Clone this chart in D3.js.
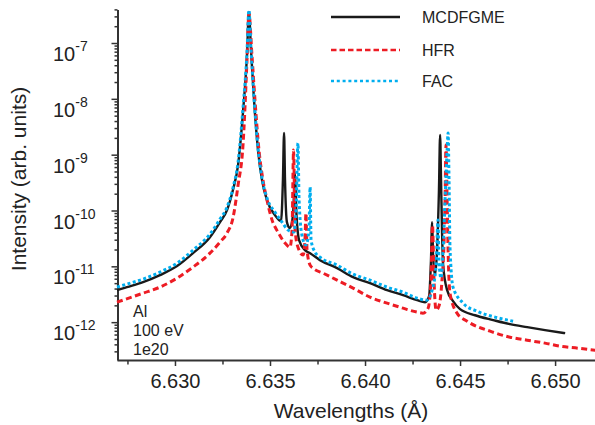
<!doctype html>
<html>
<head>
    <meta charset="utf-8">
    <title>Al spectrum - MCDFGME / HFR / FAC</title>
    <style type="text/css">
        body { margin: 0; background: #fff; }
        svg { font-family: "Liberation Sans", Arial, sans-serif; }
        .line { fill: none; }
        .mcdf { stroke: #1a1a1a; stroke-width: 2.4; }
        .hfr { stroke: #ed1c24; stroke-width: 3; stroke-dasharray: 6, 3.5; }
        .fac { stroke: #00aeef; stroke-width: 3; stroke-dasharray: 3, 2.5; }
        .axis path, .axis line { stroke: #333; }
        .axis path { stroke-width: 2; }
        .axis line { stroke-width: 1.5; }
        .lbl { fill: #222; }
    </style>
</head>
<body>
<div id="plot"></div>

<script src="https://d3js.org/d3.v7.min.js"></script>
<script>

    // data (wavelength in Angstrom, intensity in arb. units)
    var mcdfX = [6.62695, 6.62747, 6.62832, 6.62921, 6.63011, 6.63095, 6.63184, 6.63237, 6.63274, 6.63305,
        6.63332, 6.63358, 6.63379, 6.63389, 6.63400, 6.63416, 6.63437, 6.63458, 6.63484, 6.63526,
        6.63558, 6.63568, 6.63574, 6.63579, 6.63589, 6.63605, 6.63621, 6.63632, 6.63637, 6.63653,
        6.63684, 6.63711, 6.63763, 6.63853, 6.63937, 6.64026, 6.64116, 6.64200, 6.64274, 6.64316,
        6.64337, 6.64347, 6.64353, 6.64358, 6.64368, 6.64379, 6.64389, 6.64395, 6.64400, 6.64405,
        6.64411, 6.64432, 6.64463, 6.64500, 6.64579, 6.64674, 6.64763, 6.64853, 6.64947, 6.65053];
    var mcdfY = [3.74e-12, 4.24e-12, 5.21e-12, 6.95e-12, 1.01e-11, 1.72e-11, 3.33e-11, 6.20e-11, 1.02e-10, 2.32e-10,
        6.52e-10, 5.80e-9, 6.10e-8, 3.60e-7, 7.50e-8, 9.51e-9, 1.21e-9, 3.51e-10, 1.54e-10, 8.28e-11,
        6.46e-11, 3.51e-10, 2.44e-9, 3.51e-10, 6.20e-11, 4.84e-11, 8.28e-11, 4.68e-10, 1.25e-10, 2.95e-11,
        1.95e-11, 1.72e-11, 1.29e-11, 9.29e-12, 6.40e-12, 5.00e-12, 3.74e-12, 3.05e-12, 2.48e-12, 2.28e-12,
        2.92e-12, 1.29e-11, 6.20e-11, 1.59e-11, 6.95e-12, 1.95e-11, 2.32e-10, 2.25e-9, 3.51e-10, 4.46e-11,
        1.05e-11, 3.74e-12, 2.38e-12, 1.71e-12, 1.33e-12, 1.09e-12, 9.20e-13, 8.13e-13, 7.19e-13, 6.35e-13];

    var hfrX = [6.62695, 6.62832, 6.62921, 6.63011, 6.63095, 6.63184, 6.63237, 6.63274, 6.63305, 6.63332,
        6.63358, 6.63379, 6.63389, 6.63405, 6.63421, 6.63442, 6.63463, 6.63484, 6.63511, 6.63542,
        6.63579, 6.63605, 6.63616, 6.63624, 6.63632, 6.63647, 6.63674, 6.63684, 6.63689, 6.63695,
        6.63711, 6.63726, 6.63779, 6.63853, 6.63937, 6.64026, 6.64116, 6.64200, 6.64274, 6.64305,
        6.64332, 6.64347, 6.64355, 6.64363, 6.64374, 6.64389, 6.64405, 6.64416, 6.64421, 6.64426,
        6.64432, 6.64437, 6.64447, 6.64484, 6.64537, 6.64658, 6.64763, 6.64853, 6.64947, 6.65026,
        6.65121, 6.65211];
    var hfrY = [2.28e-12, 3.31e-12, 4.24e-12, 6.15e-12, 9.68e-12, 1.72e-11, 2.72e-11, 3.94e-11, 7.31e-11, 2.85e-10,
        1.49e-9, 4.96e-8, 3.45e-7, 6.10e-8, 9.51e-9, 1.21e-9, 3.51e-10, 1.54e-10, 6.73e-11, 4.10e-11,
        2.61e-11, 2.21e-11, 4.46e-11, 1.21e-9, 4.46e-11, 2.21e-11, 1.59e-11, 2.95e-11, 8.98e-11, 1.95e-11,
        1.05e-11, 9.29e-12, 7.55e-12, 5.66e-12, 4.07e-12, 2.81e-12, 2.19e-12, 1.78e-12, 1.51e-12, 1.45e-12,
        1.78e-12, 5.66e-12, 5.47e-11, 5.66e-12, 1.64e-12, 1.94e-12, 5.66e-12, 2.95e-11, 1.54e-10, 1.49e-9,
        1.54e-10, 1.95e-11, 3.31e-12, 1.45e-12, 1.04e-12, 6.90e-13, 5.38e-13, 4.75e-13, 4.21e-13, 3.72e-13,
        3.42e-13, 3.15e-13];

    var facX = [6.62695, 6.62747, 6.62832, 6.62921, 6.63011, 6.63095, 6.63184, 6.63237, 6.63274, 6.63305,
        6.63332, 6.63358, 6.63379, 6.63389, 6.63400, 6.63416, 6.63437, 6.63458, 6.63484, 6.63526,
        6.63563, 6.63595, 6.63626, 6.63637, 6.63647, 6.63653, 6.63668, 6.63689, 6.63705, 6.63711,
        6.63716, 6.63737, 6.63763, 6.63853, 6.63937, 6.64026, 6.64116, 6.64200, 6.64274, 6.64326,
        6.64353, 6.64374, 6.64384, 6.64389, 6.64400, 6.64411, 6.64421, 6.64432, 6.64437, 6.64442,
        6.64447, 6.64463, 6.64516, 6.64589, 6.64684, 6.64779];
    var facY = [4.24e-12, 4.80e-12, 5.90e-12, 7.87e-12, 1.14e-11, 1.95e-11, 3.78e-11, 7.01e-11, 1.15e-10, 2.52e-10,
        7.37e-10, 6.84e-9, 6.90e-8, 3.90e-7, 8.13e-8, 1.03e-8, 1.31e-9, 3.81e-10, 1.67e-10, 9.36e-11,
        6.20e-11, 4.46e-11, 4.10e-11, 1.02e-10, 1.61e-9, 1.54e-10, 3.62e-11, 2.40e-11, 4.46e-11, 2.62e-10,
        2.95e-11, 1.80e-11, 1.46e-11, 1.05e-11, 7.25e-12, 5.66e-12, 4.24e-12, 3.45e-12, 2.69e-12, 2.48e-12,
        3.74e-12, 1.05e-11, 6.73e-11, 1.29e-11, 6.15e-12, 1.95e-11, 1.54e-10, 1.21e-9, 2.44e-9, 3.51e-10,
        2.21e-11, 4.24e-12, 2.19e-12, 1.57e-12, 1.23e-12, 1.04e-12];

    var seriesNames = ["MCDFGME", "HFR", "FAC"];
    var seriesClass = ["mcdf", "hfr", "fac"];
    var xMajor = [6.630, 6.635, 6.640, 6.645, 6.650];
    var xMinor = [6.6275, 6.6325, 6.6375, 6.6425, 6.6475];
    var yDecades = [-12, -11, -10, -9, -8, -7];
    var noteLines = ["Al", "100 eV", "1e20"];

    var W = 595, H = 425;

    var x = d3.scaleLinear()
        .domain([6.62695, 6.6521])
        .range([117, 595]);

    var y = d3.scaleLog()
        .domain([2.1e-13, 4e-7])
        .range([360, 9.4]);

    var svg = d3.select("#plot").append("svg")
        .attr("width", W)
        .attr("height", H);

    // x axis
    var gx = svg.append("g")
        .attr("class", "x axis")
        .attr("transform", "translate(0,360)")
        .call(d3.axisBottom(x)
            .tickValues(xMajor.concat(xMinor))
            .tickSize(6)
            .tickSizeOuter(0)
            .tickFormat(function (d) { return xMajor.indexOf(d) >= 0 ? d3.format(".3f")(d) : ""; }));
    gx.selectAll(".tick line").attr("y2", function (d) { return xMajor.indexOf(d) >= 0 ? 6 : 4.5; });
    gx.selectAll(".tick text")
        .attr("y", 28).attr("dy", 0)
        .attr("class", "lbl")
        .style("font-size", "20px");
    gx.attr("font-family", null).attr("font-size", null);

    // y axis (log, minor ticks at 2..9)
    var isMajor = function (v) {
        var l = Math.log10(v);
        return Math.abs(l - Math.round(l)) < 1e-6;
    };
    var gy = svg.append("g")
        .attr("class", "y axis")
        .attr("transform", "translate(117.5,0)")
        .call(d3.axisLeft(y)
            .tickValues(y.ticks())
            .tickSize(3)
            .tickSizeOuter(0)
            .tickFormat(""));
    gy.selectAll(".tick line").attr("x2", function (d) { return isMajor(d) ? -6 : -3; });

    // y tick labels as 10 with superscript exponent
    var ylab = svg.selectAll(".ylab")
        .data(yDecades)
        .enter().append("text")
        .attr("class", "lbl ylab")
        .attr("x", 53)
        .attr("y", function (d) { return y(Math.pow(10, d)) + 18; })
        .style("font-size", "20px")
        .text("10");
    ylab.append("tspan")
        .attr("dy", -10)
        .style("font-size", "14px")
        .text(function (d) { return String(d); });

    // axis titles
    svg.append("text")
        .attr("class", "lbl")
        .attr("transform", "translate(26,179) rotate(-90)")
        .attr("text-anchor", "middle")
        .style("font-size", "21px")
        .text("Intensity (arb. units)");

    svg.append("text")
        .attr("class", "lbl")
        .attr("x", 351)
        .attr("y", 418)
        .attr("text-anchor", "middle")
        .style("font-size", "21px")
        .text("Wavelengths (\u00C5)");

    // curves
    var line = d3.line()
        .x(function (d) { return x(d[0]); })
        .y(function (d) { return y(d[1]); })
        .curve(d3.curveMonotoneX);

    var series = [d3.zip(mcdfX, mcdfY), d3.zip(hfrX, hfrY), d3.zip(facX, facY)];

    svg.selectAll(".line")
        .data(series)
        .enter().append("path")
        .attr("class", function (d, i) { return "line " + seriesClass[i]; })
        .attr("d", line);

    // legend
    var legY = [17, 50, 81];
    var leg = svg.selectAll(".leg")
        .data(seriesNames)
        .enter().append("g")
        .attr("class", "leg")
        .attr("transform", function (d, i) { return "translate(0," + legY[i] + ")"; });
    leg.append("line")
        .attr("class", function (d, i) { return "line " + seriesClass[i]; })
        .attr("x1", 331).attr("x2", 400)
        .attr("y1", 0).attr("y2", 0)
        .style("stroke-width", function (d, i) { return i == 0 ? 2.4 : 2.5; })
        .style("stroke-dasharray", function (d, i) { return i == 1 ? "5.5,3" : i == 2 ? "3,2.8" : null; });
    leg.append("text")
        .attr("class", "lbl")
        .attr("x", 422)
        .attr("y", 5.5)
        .style("font-size", "16px")
        .text(function (d) { return d; });

    // plasma conditions note
    svg.selectAll(".note")
        .data(noteLines)
        .enter().append("text")
        .attr("class", "lbl note")
        .attr("x", 133)
        .attr("y", function (d, i) { return 317 + i * 19; })
        .style("font-size", "16px")
        .text(function (d) { return d; });

</script>
</body>
</html>
